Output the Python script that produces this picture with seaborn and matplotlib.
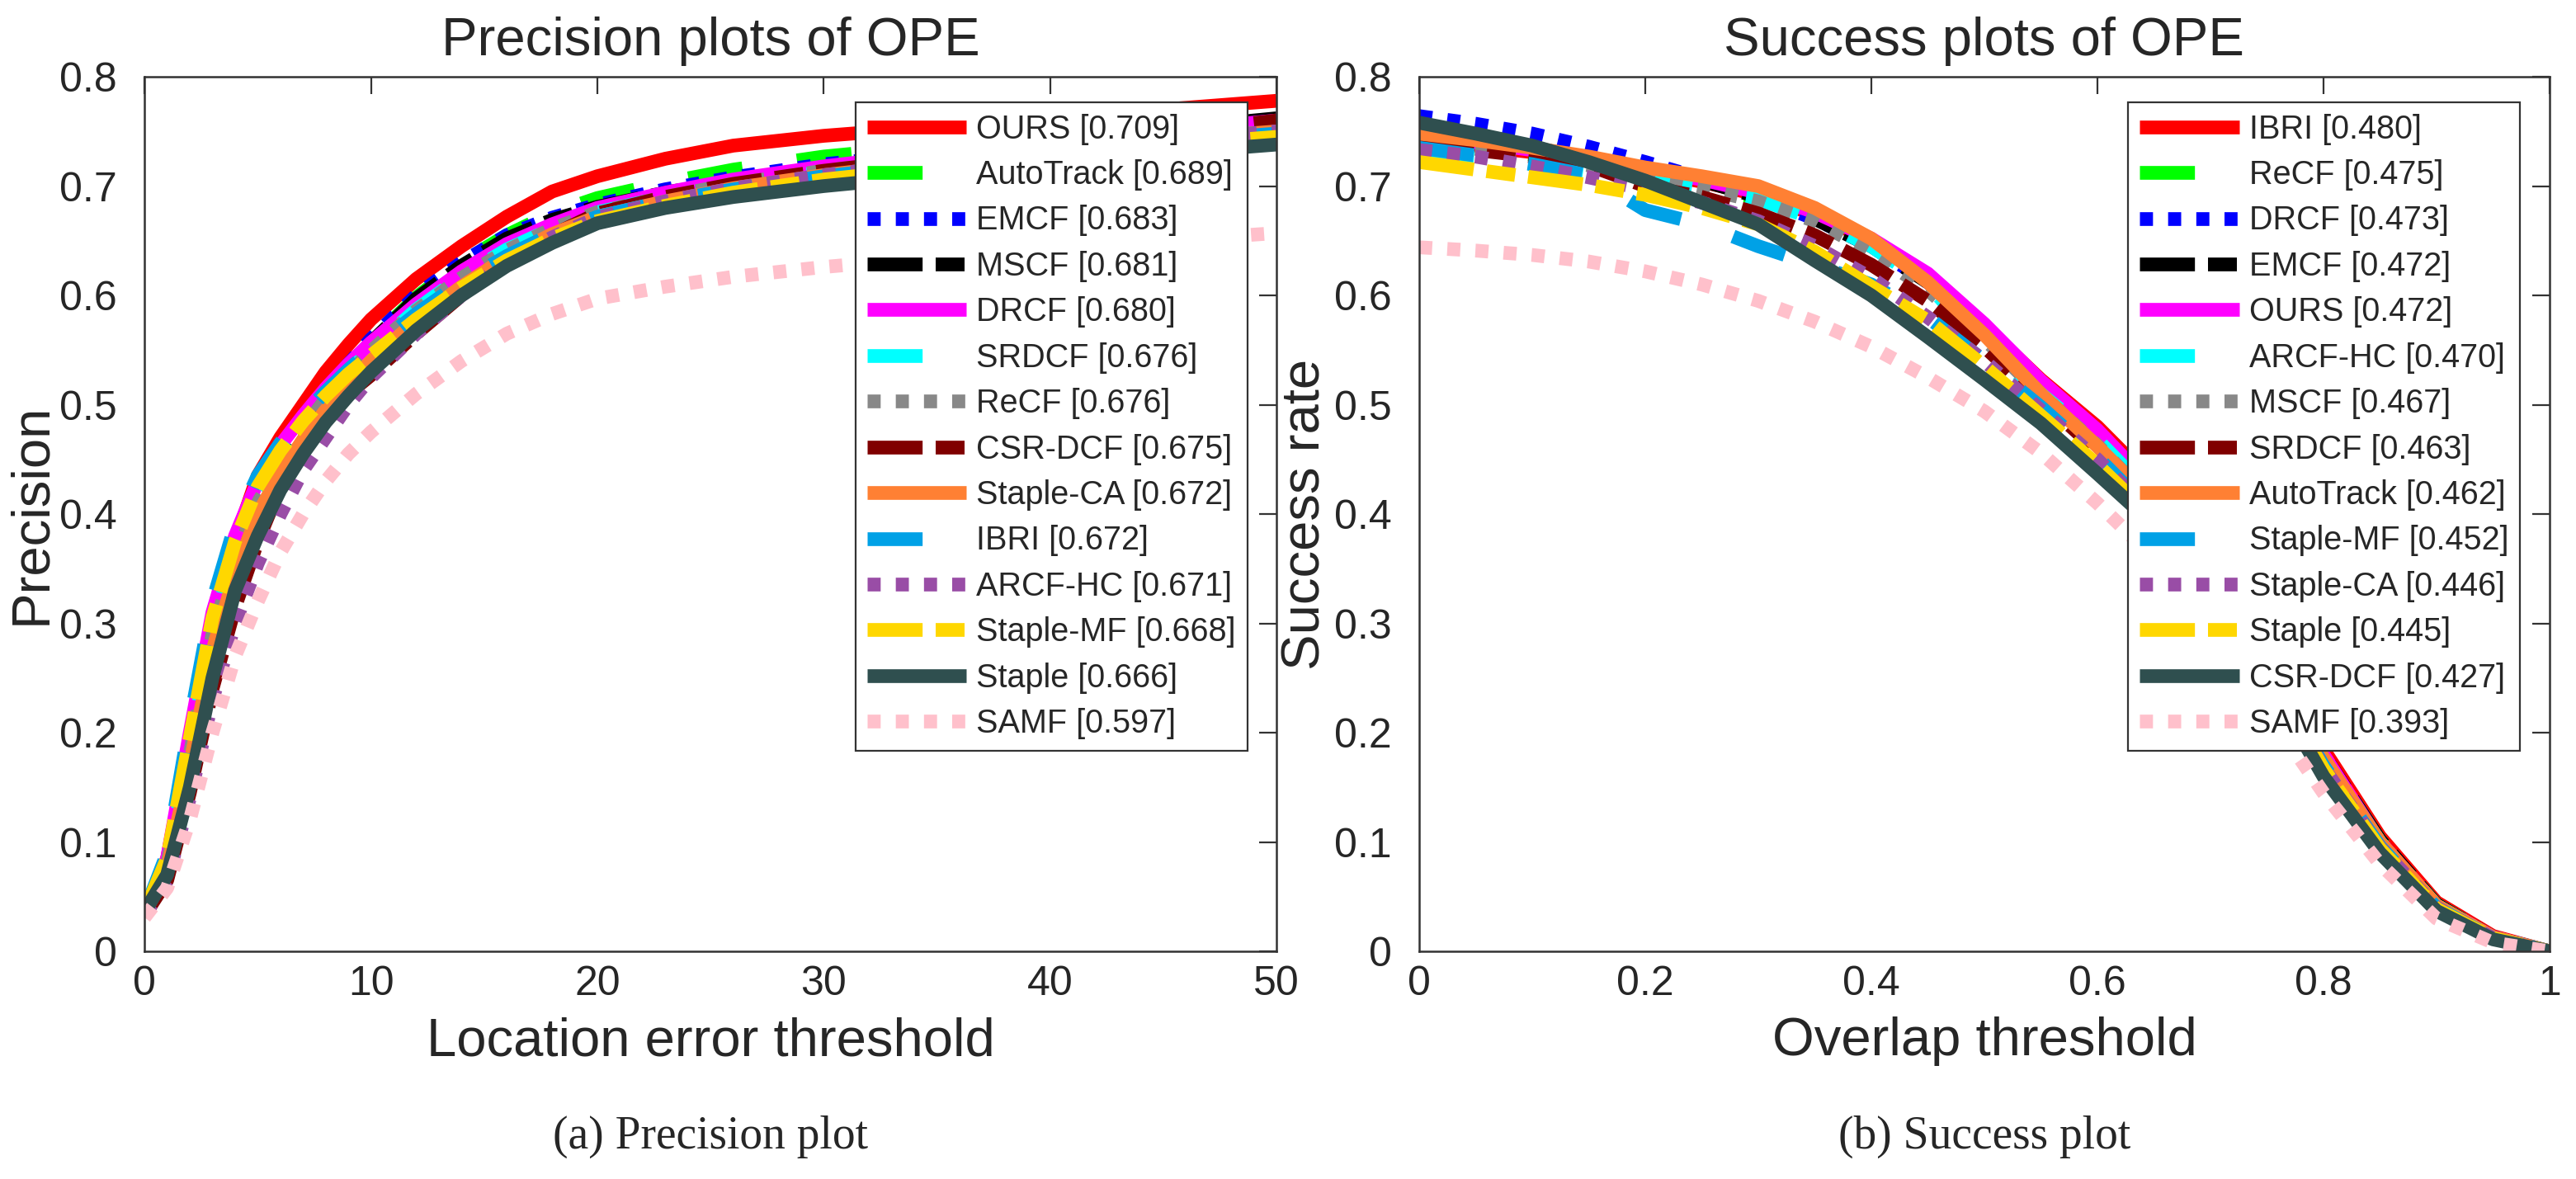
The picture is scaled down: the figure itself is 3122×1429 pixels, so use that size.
import matplotlib
matplotlib.use("Agg")
import matplotlib.pyplot as plt
import seaborn as sns

# ---- precision plot data (location error threshold 0..50) ----
prec_x = [0, 1, 2, 3, 4, 5, 6, 7, 8, 9, 10, 12, 14, 16, 18, 20, 23, 26, 30, 35, 40, 45, 50]

prec_names = ["OURS", "AutoTrack", "EMCF", "MSCF", "DRCF", "SRDCF", "ReCF",
              "CSR-DCF", "Staple-CA", "IBRI", "ARCF-HC", "Staple-MF", "Staple", "SAMF"]
prec_scores = [0.709, 0.689, 0.683, 0.681, 0.680, 0.676, 0.676,
               0.675, 0.672, 0.672, 0.671, 0.668, 0.666, 0.597]

p_ours = [0.036, 0.085, 0.19, 0.30, 0.375, 0.435, 0.47, 0.50, 0.53, 0.555, 0.578, 0.615, 0.645, 0.672, 0.695, 0.709, 0.725, 0.737, 0.746, 0.754, 0.762, 0.770, 0.778]
p_autotrack = [0.035, 0.08, 0.18, 0.29, 0.36, 0.415, 0.45, 0.48, 0.51, 0.535, 0.558, 0.598, 0.63, 0.655, 0.675, 0.689, 0.703, 0.715, 0.727, 0.737, 0.745, 0.752, 0.758]
p_emcf = [0.035, 0.08, 0.18, 0.29, 0.36, 0.415, 0.452, 0.483, 0.51, 0.537, 0.56, 0.60, 0.63, 0.655, 0.671, 0.683, 0.697, 0.708, 0.72, 0.73, 0.74, 0.748, 0.755]
p_mscf = [0.035, 0.078, 0.178, 0.287, 0.357, 0.412, 0.45, 0.48, 0.508, 0.534, 0.557, 0.597, 0.627, 0.652, 0.669, 0.681, 0.694, 0.705, 0.717, 0.73, 0.742, 0.752, 0.762]
p_drcf = [0.036, 0.085, 0.20, 0.31, 0.38, 0.43, 0.463, 0.49, 0.515, 0.537, 0.557, 0.592, 0.622, 0.647, 0.665, 0.680, 0.694, 0.706, 0.718, 0.73, 0.74, 0.75, 0.76]
p_srdcf = [0.035, 0.08, 0.185, 0.295, 0.365, 0.415, 0.45, 0.48, 0.507, 0.53, 0.55, 0.587, 0.617, 0.642, 0.661, 0.676, 0.69, 0.701, 0.713, 0.724, 0.734, 0.742, 0.75]
p_recf = [0.035, 0.08, 0.18, 0.29, 0.36, 0.41, 0.447, 0.478, 0.505, 0.528, 0.549, 0.586, 0.616, 0.641, 0.661, 0.676, 0.69, 0.702, 0.714, 0.726, 0.737, 0.747, 0.757]
p_csrdcf = [0.033, 0.065, 0.145, 0.24, 0.315, 0.375, 0.425, 0.46, 0.49, 0.51, 0.527, 0.565, 0.60, 0.63, 0.655, 0.675, 0.69, 0.702, 0.714, 0.726, 0.737, 0.748, 0.76]
p_stapleca = [0.035, 0.075, 0.17, 0.275, 0.345, 0.40, 0.437, 0.468, 0.495, 0.518, 0.54, 0.577, 0.608, 0.635, 0.656, 0.672, 0.686, 0.698, 0.71, 0.722, 0.732, 0.742, 0.75]
p_ibri = [0.036, 0.09, 0.21, 0.32, 0.39, 0.435, 0.465, 0.49, 0.512, 0.532, 0.55, 0.583, 0.612, 0.636, 0.656, 0.672, 0.686, 0.697, 0.709, 0.72, 0.73, 0.74, 0.748]
p_arcfhc = [0.033, 0.065, 0.14, 0.23, 0.30, 0.355, 0.40, 0.44, 0.47, 0.50, 0.525, 0.565, 0.60, 0.63, 0.653, 0.671, 0.686, 0.698, 0.71, 0.722, 0.732, 0.742, 0.75]
p_staplemf = [0.036, 0.085, 0.195, 0.305, 0.375, 0.425, 0.458, 0.485, 0.508, 0.528, 0.545, 0.578, 0.607, 0.632, 0.652, 0.668, 0.682, 0.694, 0.706, 0.717, 0.727, 0.737, 0.745]
p_staple = [0.036, 0.07, 0.15, 0.25, 0.33, 0.38, 0.422, 0.455, 0.484, 0.508, 0.53, 0.568, 0.60, 0.627, 0.648, 0.666, 0.68, 0.69, 0.70, 0.71, 0.72, 0.73, 0.738]
p_samf = [0.031, 0.058, 0.12, 0.20, 0.27, 0.32, 0.365, 0.40, 0.43, 0.455, 0.475, 0.51, 0.54, 0.565, 0.583, 0.597, 0.608, 0.617, 0.626, 0.635, 0.643, 0.65, 0.657]

prec_curves = [p_ours, p_autotrack, p_emcf, p_mscf, p_drcf, p_srdcf, p_recf,
               p_csrdcf, p_stapleca, p_ibri, p_arcfhc, p_staplemf, p_staple, p_samf]

# ---- success plot data (overlap threshold 0..1) ----
succ_x = [0, 0.05, 0.1, 0.15, 0.2, 0.25, 0.3, 0.35, 0.4, 0.45, 0.5,
          0.55, 0.6, 0.65, 0.7, 0.75, 0.8, 0.85, 0.9, 0.95, 1.0]

succ_names = ["IBRI", "ReCF", "DRCF", "EMCF", "OURS", "ARCF-HC", "MSCF",
              "SRDCF", "AutoTrack", "Staple-MF", "Staple-CA", "Staple", "CSR-DCF", "SAMF"]
succ_scores = [0.480, 0.475, 0.473, 0.472, 0.472, 0.470, 0.467,
               0.463, 0.462, 0.452, 0.446, 0.445, 0.427, 0.393]

s_ibri = [0.742, 0.737, 0.731, 0.723, 0.714, 0.704, 0.692, 0.674, 0.65, 0.618, 0.572, 0.523, 0.48, 0.428, 0.36, 0.28, 0.185, 0.105, 0.045, 0.014, 0.0]
s_recf = [0.74, 0.735, 0.729, 0.721, 0.711, 0.70, 0.689, 0.672, 0.647, 0.615, 0.568, 0.518, 0.472, 0.42, 0.353, 0.275, 0.18, 0.102, 0.043, 0.013, 0.0]
s_drcf = [0.764, 0.757, 0.748, 0.736, 0.722, 0.707, 0.69, 0.67, 0.645, 0.612, 0.565, 0.515, 0.468, 0.416, 0.35, 0.272, 0.178, 0.10, 0.042, 0.013, 0.0]
s_emcf = [0.75, 0.743, 0.735, 0.726, 0.716, 0.705, 0.69, 0.67, 0.645, 0.612, 0.566, 0.515, 0.468, 0.415, 0.35, 0.272, 0.18, 0.102, 0.043, 0.013, 0.0]
s_ours = [0.745, 0.74, 0.733, 0.725, 0.716, 0.706, 0.694, 0.676, 0.652, 0.62, 0.574, 0.522, 0.477, 0.423, 0.355, 0.275, 0.18, 0.10, 0.042, 0.013, 0.0]
s_arcfhc = [0.73, 0.726, 0.72, 0.713, 0.705, 0.697, 0.688, 0.67, 0.645, 0.61, 0.553, 0.51, 0.468, 0.415, 0.348, 0.27, 0.176, 0.10, 0.042, 0.013, 0.0]
s_mscf = [0.74, 0.734, 0.727, 0.719, 0.709, 0.698, 0.686, 0.668, 0.64, 0.605, 0.56, 0.51, 0.463, 0.41, 0.345, 0.268, 0.175, 0.10, 0.042, 0.013, 0.0]
s_srdcf = [0.738, 0.733, 0.727, 0.719, 0.70, 0.69, 0.675, 0.655, 0.628, 0.595, 0.553, 0.505, 0.458, 0.405, 0.34, 0.265, 0.172, 0.098, 0.041, 0.012, 0.0]
s_autotrack = [0.748, 0.742, 0.735, 0.727, 0.717, 0.709, 0.70, 0.68, 0.652, 0.612, 0.564, 0.51, 0.462, 0.41, 0.345, 0.27, 0.177, 0.10, 0.042, 0.013, 0.0]
s_staplemf = [0.735, 0.728, 0.72, 0.71, 0.678, 0.665, 0.645, 0.628, 0.61, 0.58, 0.54, 0.498, 0.452, 0.40, 0.335, 0.26, 0.17, 0.096, 0.04, 0.012, 0.0]
s_stapleca = [0.733, 0.727, 0.718, 0.708, 0.697, 0.685, 0.668, 0.645, 0.616, 0.58, 0.54, 0.495, 0.45, 0.398, 0.333, 0.258, 0.168, 0.095, 0.04, 0.012, 0.0]
s_staple = [0.722, 0.715, 0.708, 0.701, 0.692, 0.68, 0.665, 0.64, 0.608, 0.577, 0.535, 0.49, 0.445, 0.395, 0.33, 0.256, 0.167, 0.094, 0.039, 0.012, 0.0]
s_csrdcf = [0.758, 0.748, 0.737, 0.722, 0.705, 0.685, 0.665, 0.632, 0.60, 0.562, 0.523, 0.483, 0.437, 0.39, 0.325, 0.25, 0.16, 0.09, 0.037, 0.011, 0.0]
s_samf = [0.644, 0.641, 0.637, 0.631, 0.622, 0.61, 0.595, 0.576, 0.553, 0.525, 0.494, 0.456, 0.41, 0.36, 0.30, 0.22, 0.145, 0.08, 0.03, 0.008, 0.0]

succ_curves = [s_ibri, s_recf, s_drcf, s_emcf, s_ours, s_arcfhc, s_mscf,
               s_srdcf, s_autotrack, s_staplemf, s_stapleca, s_staple, s_csrdcf, s_samf]

# tick labels
y_ticks = [0, 0.1, 0.2, 0.3, 0.4, 0.5, 0.6, 0.7, 0.8]
y_ticklabels = ["0", "0.1", "0.2", "0.3", "0.4", "0.5", "0.6", "0.7", "0.8"]
prec_xticks = [0, 10, 20, 30, 40, 50]
prec_xticklabels = ["0", "10", "20", "30", "40", "50"]
succ_xticks = [0, 0.2, 0.4, 0.6, 0.8, 1.0]
succ_xticklabels = ["0", "0.2", "0.4", "0.6", "0.8", "1"]

# style per rank in the legend (same for both plots)
rank_colors = ["#FF0000", "#00FF00", "#0000FF", "#000000", "#FF00FF", "#00FFFF", "#888888",
               "#800000", "#FF8033", "#00A1E6", "#994DA6", "#FFD700", "#2F4F4F", "#FFC0CB"]
DASHED = (0, (4.0, 4.0))
DOTTED = (0, (0.95, 1.1))
DASHDOT = (0, (4.0, 0.95, 2.1, 0.95))
rank_styles = ["-", DASHED, DOTTED, DASHDOT, "-", DASHED, DOTTED,
               DASHDOT, "-", DASHED, DOTTED, DASHDOT, "-", DOTTED]

sns.set_style("white")
plt.rcParams['font.family'] = ['Liberation Sans', 'DejaVu Sans']
plt.rcParams['lines.solid_capstyle'] = 'butt'

LW = 12
EDGE = "#333333"

fig = plt.figure(figsize=(31.22, 14.29), dpi=100)
ax1 = fig.add_axes([0.0561, 0.1931, 0.4395, 0.7418])
ax2 = fig.add_axes([0.5509, 0.1931, 0.4388, 0.7418])


def draw_panel(ax, xs, curves, names, scores):
    for i, ys in enumerate(curves):
        sns.lineplot(x=xs, y=ys, ax=ax, color=rank_colors[i], linewidth=LW,
                     linestyle=rank_styles[i], legend=False)
    handles = ax.get_lines()
    labels = [f"{n} [{s:.3f}]" for n, s in zip(names, scores)]
    leg = ax.legend(handles, labels, loc="upper right", bbox_to_anchor=(0.974, 0.971),
                    borderaxespad=0, fontsize=28.5, handlelength=3.05, handletextpad=0.3,
                    borderpad=0.35, labelspacing=0.44, frameon=True, fancybox=False,
                    framealpha=1, edgecolor=EDGE)
    leg.get_frame().set_linewidth(1.6)
    ax.set_ylim(0, 0.8)
    ax.set_yticks(y_ticks)
    ax.set_yticklabels(y_ticklabels)
    ax.tick_params(direction="in", length=15, width=1.6, color=EDGE, top=True, right=True,
                   labelsize=36, labelcolor="#262626")
    ax.tick_params(axis="x", pad=12)
    ax.tick_params(axis="y", pad=24)
    for sp in ax.spines.values():
        sp.set_color(EDGE)
        sp.set_linewidth(1.8)


draw_panel(ax1, prec_x, prec_curves, prec_names, prec_scores)
ax1.set_xlim(0, 50)
ax1.set_xticks(prec_xticks)
ax1.set_xticklabels(prec_xticklabels)
ax1.set_title("Precision plots of OPE", fontsize=47, pad=19)
ax1.set_xlabel("Location error threshold", fontsize=47, labelpad=12)
ax1.set_ylabel("Precision", fontsize=47, labelpad=3)

draw_panel(ax2, succ_x, succ_curves, succ_names, succ_scores)
ax2.set_xlim(0, 1)
ax2.set_xticks(succ_xticks)
ax2.set_xticklabels(succ_xticklabels)
ax2.set_title("Success plots of OPE", fontsize=47, pad=19)
ax2.set_xlabel("Overlap threshold", fontsize=47, labelpad=12)
ax2.set_ylabel("Success rate", fontsize=47, labelpad=3)

# captions under each panel
fig.text(0.0561 + 0.4395 / 2, 0.036, "(a) Precision plot", ha="center", va="center",
         fontsize=40, family=["Liberation Serif", "DejaVu Serif"])
fig.text(0.5509 + 0.4388 / 2, 0.036, "(b) Success plot", ha="center", va="center",
         fontsize=40, family=["Liberation Serif", "DejaVu Serif"])

fig.savefig("out.png", dpi=100, facecolor="white")
plt.close(fig)
